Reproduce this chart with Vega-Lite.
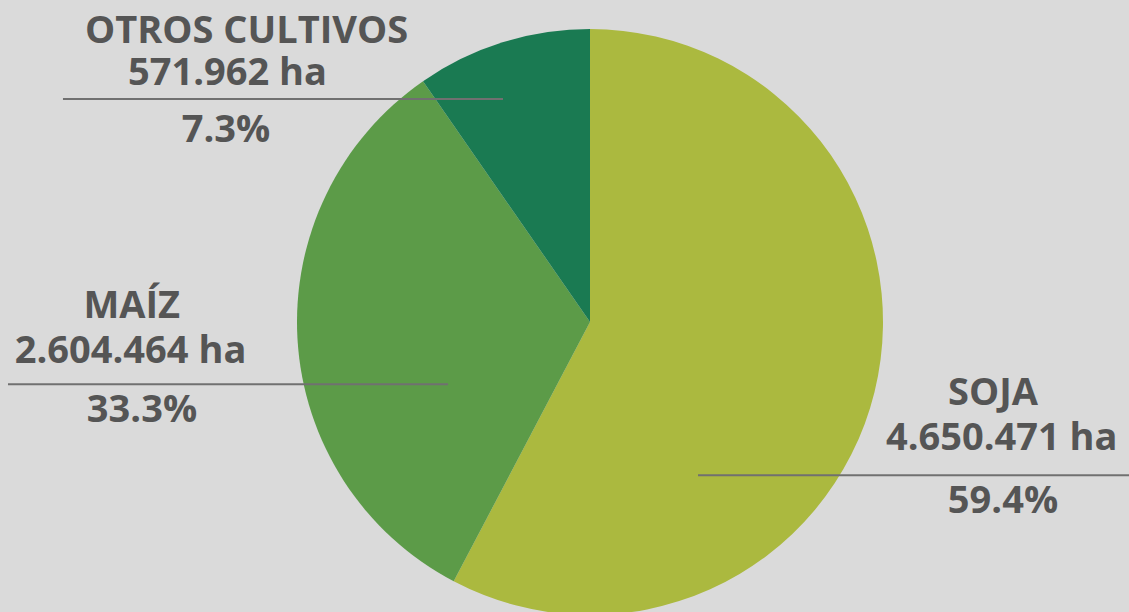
{
  "$schema": "https://vega.github.io/schema/vega-lite/v6.json",
  "width": 1078,
  "height": 580,
  "autosize": "none",
  "padding": {"left": 51, "top": 32, "right": 0, "bottom": 0},
  "background": "#dadada",
  "config": {
    "view": {"stroke": null},
    "text": {"font": "Open Sans", "fontWeight": "bold", "fontSize": 38, "color": "#555555", "align": "center", "baseline": "alphabetic"},
    "rule": {"color": "#707070", "strokeWidth": 2}
  },
  "data": {
    "values": [
      {"cultivo": "SOJA", "ha": 4650471, "haTexto": "4.650.471 ha", "pct": "59.4%", "share": 57.7},
      {"cultivo": "MAÍZ", "ha": 2604464, "haTexto": "2.604.464 ha", "pct": "33.3%", "share": 32.65},
      {"cultivo": "OTROS CULTIVOS", "ha": 571962, "haTexto": "571.962 ha", "pct": "7.3%", "share": 9.65}
    ]
  },
  "layer": [
    {
      "mark": {"type": "arc", "radius": 293, "strokeWidth": 0},
      "encoding": {
        "theta": {"field": "share", "type": "quantitative", "stack": true},
        "order": {"field": "share", "sort": "descending"},
        "color": {
          "field": "cultivo", "type": "nominal", "legend": null,
          "scale": {"domain": ["SOJA", "MAÍZ", "OTROS CULTIVOS"], "range": ["#abb93f", "#5c9b48", "#1a7a52"]}
        }
      }
    },
    {
      "transform": [{"filter": "datum.cultivo === 'OTROS CULTIVOS'"}],
      "layer": [
        {"mark": "rule", "encoding": {
          "x": {"datum": 1.11, "type": "quantitative", "scale": {"domain": [0, 100]}, "axis": null},
          "x2": {"datum": 41.93},
          "y": {"datum": 11.55, "type": "quantitative", "scale": {"domain": [0, 100], "reverse": true}, "axis": null}
        }},
        {"mark": "text", "encoding": {
          "text": {"field": "cultivo"},
          "x": {"datum": 18.14, "type": "quantitative", "scale": {"domain": [0, 100]}, "axis": null},
          "y": {"datum": 1.9, "type": "quantitative", "scale": {"domain": [0, 100], "reverse": true}, "axis": null}
        }},
        {"mark": "text", "encoding": {
          "text": {"field": "haTexto"},
          "x": {"datum": 16.37, "type": "quantitative", "scale": {"domain": [0, 100]}, "axis": null},
          "y": {"datum": 9.14, "type": "quantitative", "scale": {"domain": [0, 100], "reverse": true}, "axis": null}
        }},
        {"mark": "text", "encoding": {
          "text": {"field": "pct"},
          "x": {"datum": 16.23, "type": "quantitative", "scale": {"domain": [0, 100]}, "axis": null},
          "y": {"datum": 18.97, "type": "quantitative", "scale": {"domain": [0, 100], "reverse": true}, "axis": null}
        }}
      ]
    },
    {
      "transform": [{"filter": "datum.cultivo === 'MAÍZ'"}],
      "layer": [
        {"mark": "rule", "encoding": {
          "x": {"datum": -3.99, "type": "quantitative", "scale": {"domain": [0, 100]}, "axis": null},
          "x2": {"datum": 36.83},
          "y": {"datum": 60.74, "type": "quantitative", "scale": {"domain": [0, 100], "reverse": true}, "axis": null}
        }},
        {"mark": "text", "encoding": {
          "text": {"field": "cultivo"},
          "x": {"datum": 7.49, "type": "quantitative", "scale": {"domain": [0, 100]}, "axis": null},
          "y": {"datum": 49.31, "type": "quantitative", "scale": {"domain": [0, 100], "reverse": true}, "axis": null}
        }},
        {"mark": "text", "encoding": {
          "text": {"field": "haTexto"},
          "x": {"datum": 7.38, "type": "quantitative", "scale": {"domain": [0, 100]}, "axis": null},
          "y": {"datum": 57.07, "type": "quantitative", "scale": {"domain": [0, 100], "reverse": true}, "axis": null}
        }},
        {"mark": "text", "encoding": {
          "text": {"field": "pct"},
          "x": {"datum": 8.44, "type": "quantitative", "scale": {"domain": [0, 100]}, "axis": null},
          "y": {"datum": 67.19, "type": "quantitative", "scale": {"domain": [0, 100], "reverse": true}, "axis": null}
        }}
      ]
    },
    {
      "transform": [{"filter": "datum.cultivo === 'SOJA'"}],
      "layer": [
        {"mark": "rule", "encoding": {
          "x": {"datum": 60.02, "type": "quantitative", "scale": {"domain": [0, 100]}, "axis": null},
          "x2": {"datum": 100},
          "y": {"datum": 76.43, "type": "quantitative", "scale": {"domain": [0, 100], "reverse": true}, "axis": null}
        }},
        {"mark": "text", "encoding": {
          "text": {"field": "cultivo"},
          "x": {"datum": 87.38, "type": "quantitative", "scale": {"domain": [0, 100]}, "axis": null},
          "y": {"datum": 64.31, "type": "quantitative", "scale": {"domain": [0, 100], "reverse": true}, "axis": null}
        }},
        {"mark": "text", "encoding": {
          "text": {"field": "haTexto"},
          "x": {"datum": 88.19, "type": "quantitative", "scale": {"domain": [0, 100]}, "axis": null},
          "y": {"datum": 72.07, "type": "quantitative", "scale": {"domain": [0, 100], "reverse": true}, "axis": null}
        }},
        {"mark": "text", "encoding": {
          "text": {"field": "pct"},
          "x": {"datum": 88.31, "type": "quantitative", "scale": {"domain": [0, 100]}, "axis": null},
          "y": {"datum": 82.93, "type": "quantitative", "scale": {"domain": [0, 100], "reverse": true}, "axis": null}
        }}
      ]
    }
  ]
}
